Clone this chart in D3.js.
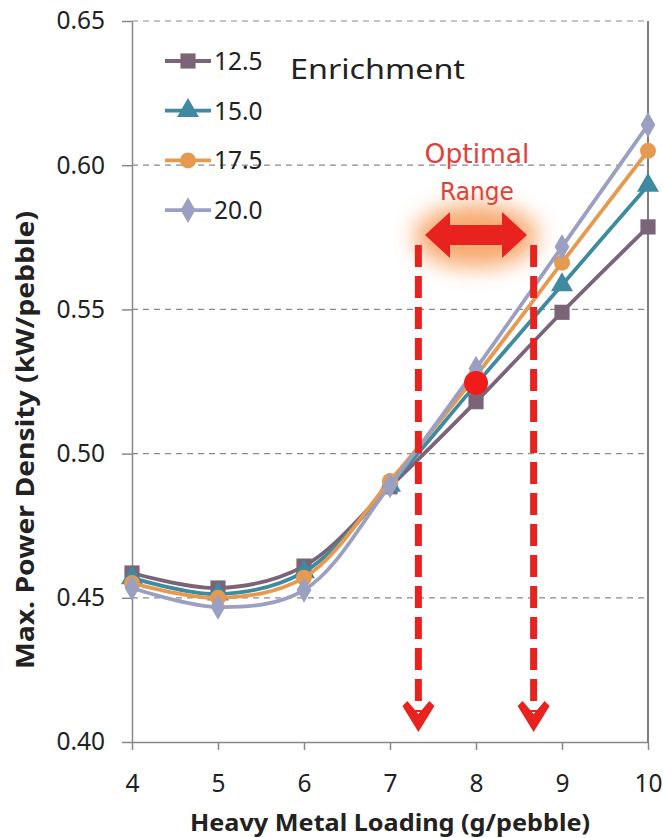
<!DOCTYPE html>
<html>
<head>
<meta charset="utf-8">
<script src="https://cdn.jsdelivr.net/npm/d3@7"></script>
<style>
  body { margin: 0; background: #fff; }
  svg { display: block; }
</style>
</head>
<body>
<script>
// canvas
var W = 663, H = 838;
var plotL = 132, plotR = 648, plotT = 21, plotB = 742;

// data
var loading = [4, 5, 6, 7, 8, 9, 10];
var enrich = ["12.5", "15.0", "17.5", "20.0"];
var pd125 = [0.4586, 0.4534, 0.4610, 0.4885, 0.5180, 0.5490, 0.5786];
var pd150 = [0.4569, 0.4513, 0.4590, 0.4890, 0.5240, 0.5585, 0.5930];
var pd175 = [0.4551, 0.4500, 0.4570, 0.4905, 0.5270, 0.5662, 0.6050];
var pd200 = [0.4534, 0.4468, 0.4527, 0.4890, 0.5295, 0.5717, 0.6140];
var yTicks = [0.40, 0.45, 0.50, 0.55, 0.60, 0.65];
var optRange = [7.33, 8.67];
var optPoint = [8, 0.5245];

var colors = ["#7b6478", "#3d8aa1", "#e59a4f", "#9b9fc2"];
var shapes = [d3.symbolSquare, d3.symbolTriangle, d3.symbolCircle, d3.symbolDiamond];
var sizes = [230, 210, 200, 190];

var series = [pd125, pd150, pd175, pd200].map(function(v, i) {
  return { name: enrich[i], values: v.map(function(y, j) { return { x: loading[j], y: y }; }) };
});

var svg = d3.select("body").append("svg").attr("width", W).attr("height", H);

var x = d3.scaleLinear().domain([4, 10]).range([plotL, plotR]);
var y = d3.scaleLinear().domain([0.40, 0.65]).range([plotB, plotT]);

var font = "Noto Sans, sans-serif";

var defs = svg.append("defs");
defs.append("filter").attr("id", "glow").attr("x", "-60%").attr("y", "-100%").attr("width", "220%").attr("height", "300%")
  .append("feGaussianBlur").attr("stdDeviation", 11);

// gridlines
svg.append("g").selectAll("line").data(yTicks.slice(1)).enter().append("line")
  .attr("x1", plotL).attr("x2", plotR)
  .attr("y1", function(d) { return y(d); }).attr("y2", function(d) { return y(d); })
  .attr("stroke", "#8a8a8a").attr("stroke-width", 1.2).attr("stroke-dasharray", "6,5");

// axes
var yAxis = d3.axisLeft(y).tickValues(yTicks).tickFormat(d3.format(".2f")).tickSize(10).tickSizeOuter(0);
var gy = svg.append("g").attr("transform", "translate(" + plotL + ",0)").call(yAxis);
gy.select(".domain").attr("stroke", "#888").attr("stroke-width", 1.5);
gy.selectAll(".tick line").attr("stroke", "#888").attr("stroke-width", 1.5);
gy.selectAll(".tick text").attr("font-family", font).attr("font-size", 24.5)
  .attr("fill", "#222").attr("x", -27);

var xAxis = d3.axisBottom(x).tickValues(loading).tickFormat(d3.format("d")).tickSize(8).tickSizeOuter(0);
var gx = svg.append("g").attr("transform", "translate(0," + plotB + ")").call(xAxis);
gx.select(".domain").attr("stroke", "#888").attr("stroke-width", 1.5);
gx.selectAll(".tick line").attr("stroke", "#888").attr("stroke-width", 1.5);
gx.selectAll(".tick text").attr("font-family", font).attr("font-size", 24.5)
  .attr("fill", "#222").attr("y", 33);

// right border
svg.append("line").attr("x1", plotR).attr("x2", plotR).attr("y1", plotT).attr("y2", plotB)
  .attr("stroke", "#555").attr("stroke-width", 1.5);

// axis titles (the source picture is stretched sideways, so fit the text to its span)
svg.append("text").attr("x", 390).attr("y", 831).attr("text-anchor", "middle")
  .attr("font-family", font).attr("font-weight", "bold").attr("font-size", 24)
  .attr("textLength", 400).attr("lengthAdjust", "spacingAndGlyphs")
  .attr("fill", "#222").text("Heavy Metal Loading (g/pebble)");
svg.append("text").attr("transform", "translate(34,440) rotate(-90)").attr("text-anchor", "middle")
  .attr("font-family", font).attr("font-weight", "bold").attr("font-size", 24.5)
  .attr("textLength", 458).attr("lengthAdjust", "spacingAndGlyphs")
  .attr("fill", "#222").text("Max. Power Density (kW/pebble)");

// glow behind the range arrow
svg.append("ellipse").attr("cx", 476).attr("cy", 236).attr("rx", 62).attr("ry", 32)
  .attr("fill", "#f7a060").attr("opacity", 0.9).attr("filter", "url(#glow)");

// series
var line = d3.line().x(function(d) { return x(d.x); }).y(function(d) { return y(d.y); })
  .curve(d3.curveCatmullRom.alpha(0.5));

series.forEach(function(s, i) {
  var g = svg.append("g");
  g.append("path").datum(s.values).attr("d", line)
    .attr("fill", "none").attr("stroke", colors[i]).attr("stroke-width", 3.8);
  g.selectAll("path.m").data(s.values).enter().append("path").attr("class", "m")
    .attr("transform", function(d) { return "translate(" + x(d.x) + "," + y(d.y) + ")"; })
    .attr("d", d3.symbol().type(shapes[i]).size(sizes[i]))
    .attr("fill", colors[i]);
});

// legend
var leg = svg.append("g");
enrich.forEach(function(e, i) {
  var ly = 61 + i * 49.7;
  leg.append("line").attr("x1", 165).attr("x2", 211).attr("y1", ly).attr("y2", ly)
    .attr("stroke", colors[i]).attr("stroke-width", 3.8);
  leg.append("path").attr("transform", "translate(188," + ly + ")")
    .attr("d", d3.symbol().type(shapes[i]).size(sizes[i])).attr("fill", colors[i]);
  leg.append("text").attr("x", 214).attr("y", ly + 9)
    .attr("font-family", font).attr("font-size", 24.5).attr("fill", "#222").text(e);
});
svg.append("text").attr("x", 290).attr("y", 79)
  .attr("font-family", font).attr("font-size", 28)
  .attr("textLength", 175).attr("lengthAdjust", "spacingAndGlyphs")
  .attr("fill", "#222").text("Enrichment");

// optimal range annotation
var red = "#e8231f";
svg.append("text").attr("x", 477).attr("y", 163).attr("text-anchor", "middle")
  .attr("font-family", "DejaVu Sans, sans-serif").attr("font-size", 26)
  .attr("textLength", 105).attr("lengthAdjust", "spacingAndGlyphs")
  .attr("fill", "#e2413b").text("Optimal");
svg.append("text").attr("x", 477).attr("y", 200).attr("text-anchor", "middle")
  .attr("font-family", "DejaVu Sans, sans-serif").attr("font-size", 25)
  .attr("textLength", 74).attr("lengthAdjust", "spacingAndGlyphs")
  .attr("fill", "#e2413b").text("Range");

var ax0 = 425, ax1 = 527, ay = 235;
svg.append("path")
  .attr("d", "M" + ax0 + "," + ay + " L" + (ax0 + 25) + "," + (ay - 23) + " L" + (ax0 + 25) + "," + (ay - 10) +
    " L" + (ax1 - 25) + "," + (ay - 10) + " L" + (ax1 - 25) + "," + (ay - 23) + " L" + ax1 + "," + ay +
    " L" + (ax1 - 25) + "," + (ay + 23) + " L" + (ax1 - 25) + "," + (ay + 10) + " L" + (ax0 + 25) + "," + (ay + 10) +
    " L" + (ax0 + 25) + "," + (ay + 23) + " Z")
  .attr("fill", red);

optRange.forEach(function(v) {
  var cx = x(v);
  svg.append("line").attr("x1", cx).attr("x2", cx).attr("y1", 245).attr("y2", 712)
    .attr("stroke", red).attr("stroke-width", 7).attr("stroke-dasharray", "22,9");
  svg.append("path").attr("transform", "translate(" + cx + ",732)")
    .attr("d", "M0,0 L-16,-26 L-11,-31 L0,-18 L11,-31 L16,-26 Z").attr("fill", red);
});

svg.append("circle").attr("cx", x(optPoint[0])).attr("cy", y(optPoint[1])).attr("r", 12).attr("fill", "#f01c1c");
</script>
</body>
</html>
